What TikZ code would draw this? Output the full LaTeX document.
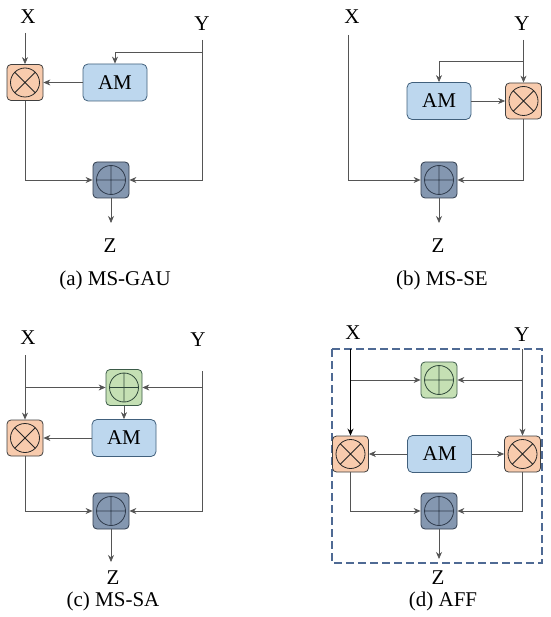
\documentclass[tikz,border=0pt]{standalone}
\usepackage{fontspec}
\setmainfont{Liberation Serif}
\usetikzlibrary{arrows.meta}
\definecolor{mulfill}{HTML}{F8CBAD}
\definecolor{mulline}{HTML}{3F3F3F}
\definecolor{amfill}{HTML}{BDD7EE}
\definecolor{amline}{HTML}{41607C}
\definecolor{plusfill}{HTML}{8497B0}
\definecolor{plusline}{HTML}{2F3B4C}
\definecolor{grfill}{HTML}{C5E0B4}
\definecolor{grline}{HTML}{3B5A48}
\definecolor{dashcol}{HTML}{4F6A94}
\definecolor{conn}{HTML}{555555}
\tikzset{
  lbl/.style={inner sep=0pt, font=\fontsize{21}{25}\selectfont},
  opbox/.style={draw, rounded corners=4pt, minimum width=36pt, minimum height=36pt, inner sep=0pt, line width=0.8pt},
  mulbox/.style={opbox, draw=mulline, fill=mulfill,
    path picture={\draw[line width=0.8pt, black!85, shift={(path picture bounding box.center)}, sharp corners]
      (0,0) circle (14.5pt) (45:14.5pt) -- (225:14.5pt) (135:14.5pt) -- (-45:14.5pt);}},
  plusbox/.style={opbox, draw=plusline, fill=plusfill,
    path picture={\draw[line width=0.8pt, plusline, shift={(path picture bounding box.center)}, sharp corners]
      (0,0) circle (14.5pt) (0:14.5pt) -- (180:14.5pt) (90:14.5pt) -- (-90:14.5pt);}},
  grbox/.style={opbox, draw=grline, fill=grfill,
    path picture={\draw[line width=0.8pt, grline!80!black, shift={(path picture bounding box.center)}, sharp corners]
      (0,0) circle (14.5pt) (0:14.5pt) -- (180:14.5pt) (90:14.5pt) -- (-90:14.5pt);}},
  ambox/.style={draw=amline, fill=amfill, rounded corners=5pt, minimum width=64pt, minimum height=37pt, inner sep=0pt, line width=0.8pt, font=\fontsize{21}{25}\selectfont},
  ln/.style={draw=conn, line width=0.7pt},
  arr/.style={ln, -{Stealth[length=7pt,width=6pt]}},
  thickarr/.style={draw=black, line width=1.2pt, -{Stealth[length=7pt,width=6pt]}},
}
\begin{document}
\begin{tikzpicture}[x=1pt,y=-1pt]
\useasboundingbox (0,0) rectangle (550,617);
% ---------------- (a) MS-GAU
\node[lbl] (aX) at (28,17) {X};
\node[lbl] (aY) at (202,24) {Y};
\coordinate (aXs) at (25,33);
\coordinate (aYs) at (202,40);
\coordinate (aYb) at (202,52);
\node[mulbox] (aM) at (25,82.5) {};
\node[ambox] (aAM) at (115,82.5) {AM};
\node[plusbox] (aP) at (111,180) {};
\coordinate (aZe) at (111,223);
\node[lbl] (aZ) at (110,246) {Z};
\node[lbl] (aC) at (115,280) {(a) MS-GAU};
\draw[arr] (aXs) -- (aM.north);
\draw[arr] (aYs) |- (aP.east);
\draw[arr] (aYb) -| (aAM.north);
\draw[arr] (aAM.west) -- (aM.east);
\draw[arr] (aM.south) |- (aP.west);
\draw[arr] (aP.south) -- (aZe);
% ---------------- (b) MS-SE
\node[lbl] (bX) at (352,17) {X};
\node[lbl] (bY) at (522,24) {Y};
\coordinate (bXs) at (348,35);
\coordinate (bYs) at (523.5,40);
\coordinate (bYb) at (523.5,61);
\node[ambox] (bAM) at (439,101) {AM};
\node[mulbox] (bM) at (523.5,101) {};
\node[plusbox] (bP) at (439,180) {};
\coordinate (bZe) at (439,223);
\node[lbl] (bZ) at (438,246) {Z};
\node[lbl] (bC) at (442,280) {(b) MS-SE};
\draw[arr] (bXs) |- (bP.west);
\draw[arr] (bYs) -- (bM.north);
\draw[arr] (bYb) -| (bAM.north);
\draw[arr] (bAM.east) -- (bM.west);
\draw[arr] (bM.south) |- (bP.east);
\draw[arr] (bP.south) -- (bZe);
% ---------------- (c) MS-SA
\node[lbl] (cX) at (28,338) {X};
\node[lbl] (cY) at (198,340) {Y};
\coordinate (cXs) at (25,355);
\coordinate (cYs) at (202,371);
\coordinate (cXb) at (25,387.5);
\coordinate (cYb) at (202,387.5);
\node[grbox] (cG) at (124,387.5) {};
\node[ambox] (cAM) at (124,438) {AM};
\node[mulbox] (cM) at (25,438) {};
\node[plusbox] (cP) at (111,511) {};
\coordinate (cZe) at (111,562);
\node[lbl] (cZ) at (113,578) {Z};
\node[lbl] (cC) at (113,601) {(c) MS-SA};
\draw[arr] (cXs) -- (cM.north);
\draw[arr] (cXb) -- (cG.west);
\draw[arr] (cYb) -- (cG.east);
\draw[arr] (cYs) |- (cP.east);
\draw[arr] (cG.south) -- (cAM.north);
\draw[arr] (cAM.west) -- (cM.east);
\draw[arr] (cM.south) |- (cP.west);
\draw[arr] (cP.south) -- (cZe);
% ---------------- (d) AFF
\draw[dashcol, line width=1.1pt, dash pattern=on 8pt off 4pt] (332,349) rectangle (542,563);
\node[lbl] (dX) at (353,333) {X};
\node[lbl] (dY) at (522,335) {Y};
\coordinate (dXs) at (350.5,349);
\coordinate (dYs) at (522.5,349);
\coordinate (dXb) at (350.5,380);
\coordinate (dYb) at (522.5,380);
\node[grbox] (dG) at (439,380) {};
\node[mulbox] (dML) at (350.5,454) {};
\node[ambox] (dAM) at (439.5,454) {AM};
\node[mulbox] (dMR) at (522.5,454) {};
\node[plusbox] (dP) at (439,511) {};
\coordinate (dZe) at (439,559);
\node[lbl] (dZ) at (438,578) {Z};
\node[lbl] (dC) at (443,601) {(d) AFF};
\draw[thickarr] (dXs) -- (dML.north);
\draw[arr] (dYs) -- (dMR.north);
\draw[arr] (dXb) -- (dG.west);
\draw[arr] (dYb) -- (dG.east);
\draw[arr] (dAM.west) -- (dML.east);
\draw[arr] (dAM.east) -- (dMR.west);
\draw[arr] (dML.south) |- (dP.west);
\draw[arr] (dMR.south) |- (dP.east);
\draw[arr] (dP.south) -- (dZe);
\end{tikzpicture}
\end{document}
